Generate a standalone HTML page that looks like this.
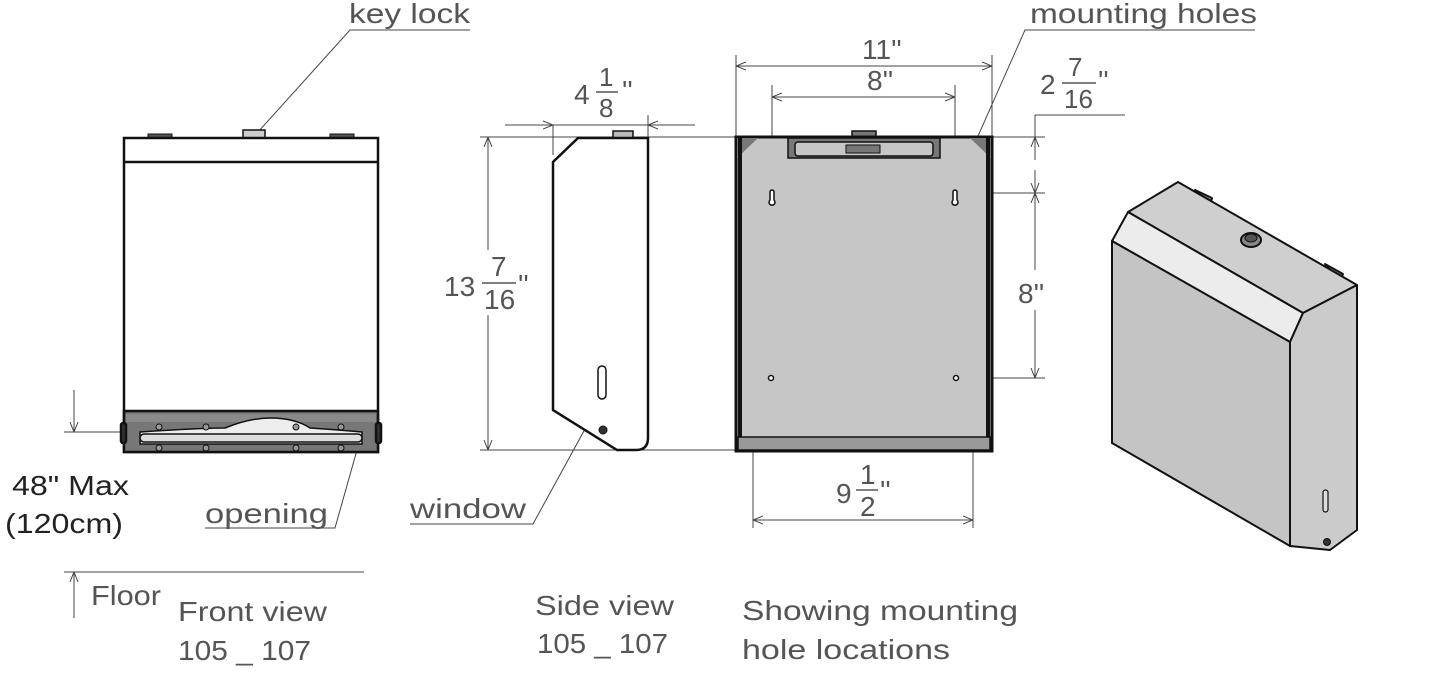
<!DOCTYPE html>
<html><head><meta charset="utf-8"><style>
html,body{margin:0;padding:0;background:#fff;}
svg{display:block}
text{font-family:"Liberation Sans","DejaVu Sans",sans-serif;fill:#555;}
</style></head><body>
<svg width="1445" height="680" viewBox="0 0 1445 680" xmlns="http://www.w3.org/2000/svg">
<defs>
<marker id="a" viewBox="0 0 10 10" refX="10" refY="5" markerWidth="10" markerHeight="10" orient="auto-start-reverse" markerUnits="userSpaceOnUse"><path d="M0,1 L10,5 L0,9" fill="none" stroke="#444" stroke-width="1"/></marker>
</defs>
<g stroke="#444" stroke-width="1" fill="none">
<polyline points="258,132 350,30 470,30"/>
<polyline points="357,450 335,528 205,528"/>
<polyline points="602,398 533,524 410,524"/>
<polyline points="955,188 1025,30 1255,30"/>
<line x1="64" y1="432" x2="123" y2="432"/>
<line x1="74" y1="390" x2="74" y2="432" marker-end="url(#a)"/>
<line x1="64" y1="572" x2="364" y2="572"/>
<line x1="74" y1="618" x2="74" y2="572" marker-end="url(#a)"/>
<line x1="505" y1="125" x2="695" y2="125"/>
<line x1="553" y1="125" x2="553" y2="155"/>
<line x1="648" y1="115" x2="648" y2="137"/>
<line x1="530" y1="125" x2="553" y2="125" marker-end="url(#a)"/>
<line x1="672" y1="125" x2="648" y2="125" marker-end="url(#a)"/>
<line x1="480" y1="137" x2="735" y2="137"/>
<line x1="480" y1="450" x2="735" y2="450"/>
<line x1="488" y1="250" x2="488" y2="137" marker-end="url(#a)"/>
<line x1="488" y1="315" x2="488" y2="450" marker-end="url(#a)"/>
<line x1="736" y1="55" x2="736" y2="137"/>
<line x1="992" y1="55" x2="992" y2="137"/>
<line x1="736" y1="66" x2="992" y2="66" marker-start="url(#a)" marker-end="url(#a)"/>
<line x1="772" y1="85" x2="772" y2="188"/>
<line x1="955" y1="85" x2="955" y2="188"/>
<line x1="772" y1="97" x2="955" y2="97" marker-start="url(#a)" marker-end="url(#a)"/>
<line x1="753" y1="450" x2="753" y2="528"/>
<line x1="973" y1="450" x2="973" y2="528"/>
<line x1="753" y1="520" x2="973" y2="520" marker-start="url(#a)" marker-end="url(#a)"/>
<line x1="992" y1="137" x2="1045" y2="137"/>
<line x1="1035" y1="115" x2="1125" y2="115"/>
<line x1="962" y1="193" x2="1045" y2="193"/>
<line x1="960" y1="378" x2="1045" y2="378"/>
<line x1="1035" y1="115" x2="1035" y2="137" />
<line x1="1035" y1="160" x2="1035" y2="137" marker-end="url(#a)"/>
<line x1="1035" y1="170" x2="1035" y2="193" marker-end="url(#a)"/>
<line x1="1035" y1="270" x2="1035" y2="193" marker-end="url(#a)"/>
<line x1="1035" y1="310" x2="1035" y2="378" marker-end="url(#a)"/>
</g>

<g stroke="#111" stroke-width="2.5">
<rect x="243" y="130" width="22" height="8" fill="#ccc" stroke-width="1.5"/>
<rect x="148" y="134" width="24" height="4" fill="#555" stroke-width="1"/>
<rect x="330" y="134" width="24" height="4" fill="#555" stroke-width="1"/>
<rect x="124" y="138" width="254" height="314" fill="#fff"/>
<line x1="124" y1="162" x2="378" y2="162"/>
<rect x="124" y="411" width="254" height="41" fill="#777"/>
<rect x="126" y="414" width="250" height="8" fill="#8a8a8a" stroke="none"/>
<path d="M140,432 Q200,428 225,428 Q250,418 270,418 Q295,418 310,428 Q340,430 362,432 L362,444 L140,444 Z" fill="#eee" stroke-width="1.5"/>
<rect x="140" y="434" width="222" height="8" rx="4" fill="#ddd" stroke-width="1.5"/>
<g fill="#999" stroke-width="1"><circle cx="159" cy="427" r="3"/><circle cx="206" cy="427" r="3"/><circle cx="296" cy="427" r="3"/><circle cx="341" cy="427" r="3"/><circle cx="159" cy="448" r="3"/><circle cx="206" cy="448" r="3"/><circle cx="296" cy="448" r="3"/><circle cx="341" cy="448" r="3"/></g>
<rect x="121" y="423" width="5" height="20" rx="2" fill="#333"/><rect x="376" y="423" width="5" height="20" rx="2" fill="#333"/>
</g>

<g stroke="#111" stroke-width="2.5">
<rect x="613" y="131" width="20" height="7" fill="#bbb" stroke-width="1.5"/>
<path d="M553,162 L578,138 L648,138 L648,438 Q648,450 636,450 L617,450 L553,410 Z" fill="#fff"/>
<rect x="598" y="366" width="8" height="33" rx="4" fill="#fff" stroke-width="1.5"/>
<circle cx="603" cy="430" r="4" fill="#333" stroke-width="1"/>
</g>

<g stroke="#111" stroke-width="2">
<rect x="852" y="131" width="24" height="8" fill="#777" stroke-width="1.5"/>
<rect x="736" y="137" width="256" height="314" fill="#c6c6c6" stroke-width="3"/>
<path d="M737,138 L758,138 L737,158 Z" fill="#777" stroke="none"/>
<path d="M991,138 L970,138 L991,158 Z" fill="#777" stroke="none"/>
<rect x="738" y="138" width="4" height="310" fill="#111" stroke="none"/>
<rect x="986" y="138" width="4" height="310" fill="#111" stroke="none"/>
<path d="M788,138 L940,138 L940,158 L788,158 Z" fill="#777" stroke-width="1.5"/>
<rect x="795" y="142" width="138" height="14" rx="3" fill="#c6c6c6" stroke-width="1.5"/>
<rect x="846" y="145" width="34" height="8" fill="#777" stroke-width="1"/>
<rect x="738" y="437" width="252" height="13" fill="#999" stroke-width="1.5"/>
<g fill="#fff" stroke-width="1.5">
<path d="M770,200 a3,3 0 1,0 4,0 L774,192 a2,2 0 0,0 -4,0 Z"/>
<path d="M953,200 a3,3 0 1,0 4,0 L957,192 a2,2 0 0,0 -4,0 Z"/>
<circle cx="771" cy="378" r="2.5"/><circle cx="956" cy="378" r="2.5"/>
</g>
</g>

<g stroke="#111" stroke-width="2" stroke-linejoin="round">
<path d="M1195,190 L1212,198 L1210,205 Z" fill="#999"/>
<path d="M1325,264 L1343,274 L1340,281 Z" fill="#999"/>
<path d="M1178,182 L1357,285 L1303,313 L1128,212 Z" fill="#cfcfcf"/>
<path d="M1128,212 L1303,313 L1290,342 L1112,241 Z" fill="#ececec"/>
<path d="M1112,241 L1290,342 L1290,546 L1112,443 Z" fill="#c4c4c4"/>
<path d="M1290,342 L1303,313 L1357,285 L1357,530 L1330,550 L1290,546 Z" fill="#cbcbcb"/>
<ellipse cx="1251" cy="240" rx="10" ry="7" fill="#888"/>
<ellipse cx="1251" cy="238" rx="6" ry="4" fill="#555" stroke-width="1"/>
<rect x="1323" y="490" width="5" height="22" rx="2.5" fill="#ddd" stroke-width="1.2"/>
<circle cx="1327" cy="542" r="3.5" fill="#333" stroke-width="1"/>
</g>

<g font-size="28">
<text x="349" y="23" textLength="121" lengthAdjust="spacingAndGlyphs">key lock</text>
<text x="1030" y="23" textLength="227" lengthAdjust="spacingAndGlyphs">mounting holes</text>
<text x="205" y="523" textLength="123" lengthAdjust="spacingAndGlyphs">opening</text>
<text x="410" y="518" textLength="116" lengthAdjust="spacingAndGlyphs">window</text>
<text x="12" y="495" style="fill:#222" textLength="117" lengthAdjust="spacingAndGlyphs">48" Max</text>
<text x="5" y="533" style="fill:#222" textLength="118" lengthAdjust="spacingAndGlyphs">(120cm)</text>
<text x="91" y="605" textLength="70" lengthAdjust="spacingAndGlyphs">Floor</text>
<text x="178" y="621" textLength="149" lengthAdjust="spacingAndGlyphs">Front view</text>
<text x="178" y="660" textLength="133" lengthAdjust="spacingAndGlyphs">105 _ 107</text>
<text x="535" y="615" textLength="139" lengthAdjust="spacingAndGlyphs">Side view</text>
<text x="537" y="653" textLength="131" lengthAdjust="spacingAndGlyphs">105 _ 107</text>
<text x="742" y="620" textLength="276" lengthAdjust="spacingAndGlyphs">Showing mounting</text>
<text x="742" y="659" textLength="208" lengthAdjust="spacingAndGlyphs">hole locations</text>
<text x="862" y="59">11''</text>
<text x="867" y="90">8''</text>
<text x="1018" y="303">8''</text>
<text x="574" y="104">4</text><text x="599" y="86" font-size="26">1</text><text x="599" y="117" font-size="26">8</text><text x="622" y="100">''</text>
<line x1="596" y1="92" x2="618" y2="92" stroke="#555" stroke-width="1.5"/>
<text x="444" y="296">13</text><text x="491" y="276">7</text><text x="484" y="309">16</text><text x="518" y="294">''</text>
<line x1="482" y1="283" x2="516" y2="283" stroke="#555" stroke-width="1.5"/>
<text x="836" y="503">9</text><text x="860" y="484">1</text><text x="860" y="516">2</text><text x="880" y="500">''</text>
<line x1="856" y1="490" x2="878" y2="490" stroke="#555" stroke-width="1.5"/>
<text x="1040" y="94">2</text><text x="1068" y="76" font-size="26">7</text><text x="1064" y="108" font-size="26">16</text><text x="1098" y="90">''</text>
<line x1="1062" y1="83" x2="1096" y2="83" stroke="#555" stroke-width="1.5"/>
</g>
</svg>
</body></html>
